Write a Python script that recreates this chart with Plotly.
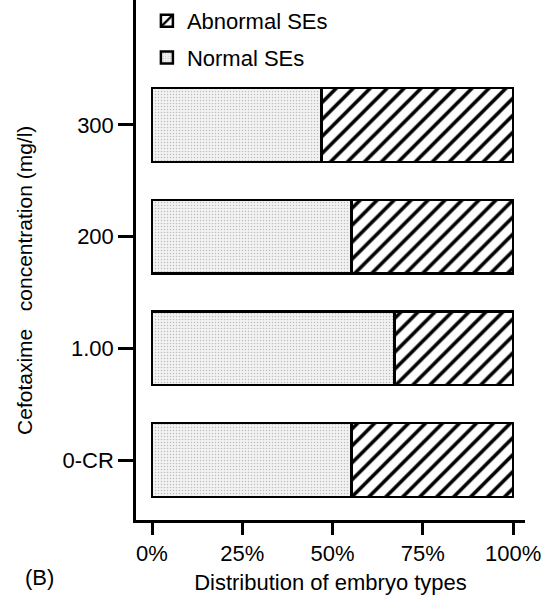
import plotly.graph_objects as go

categories = ["0-CR", "1.00", "200", "300"]
normal_pct = [55.3, 67.1, 55.3, 47.0]
abnormal_pct = [44.7, 32.9, 44.7, 53.0]
x_tickvals = [0, 25, 50, 75, 100]
x_ticktext = ["0%", "25%", "50%", "75%", "100%"]

FONT = "Liberation Sans, Arial, Helvetica, sans-serif"

fig = go.Figure()
fig.add_trace(go.Bar(
    y=categories, x=normal_pct, orientation="h", name="Normal SEs",
    width=0.66, legendrank=2, legendgroup="n",
    marker=dict(color="#ececec", line=dict(color="black", width=2.5),
                pattern=dict(shape=".", fgcolor="#bdbdbd", bgcolor="#f3f3f3",
                             size=3, solidity=0.2, fgopacity=1)),
))
fig.add_trace(go.Bar(
    y=categories, x=abnormal_pct, orientation="h", name="Abnormal SEs",
    width=0.66, legendrank=1, legendgroup="a",
    marker=dict(color="white", line=dict(color="black", width=2.5),
                pattern=dict(shape="/", fgcolor="black", bgcolor="white",
                             size=12, solidity=0.3, fgopacity=1)),
))

fig.update_layout(
    width=558, height=595,
    margin=dict(l=136, r=33, t=0, b=75),
    barmode="stack",
    plot_bgcolor="white", paper_bgcolor="white",
    font=dict(family=FONT, size=22, color="black"),
    showlegend=True,
    legend=dict(x=0.028, y=1.0, xanchor="left", yanchor="top",
                traceorder="grouped", tracegroupgap=5,
                font=dict(size=22), bgcolor="rgba(0,0,0,0)"),
    xaxis=dict(range=[-4.43, 103.3], tickvals=x_tickvals, ticktext=x_ticktext,
               showline=True, linecolor="black", linewidth=2.5,
               ticks="outside", ticklen=12, tickwidth=2.5, tickcolor="black",
               showgrid=False, zeroline=False, tickfont=dict(size=22),
               title=dict(text="Distribution of embryo types", standoff=10,
                          font=dict(size=22))),
    yaxis=dict(range=[-0.537, 4.119], type="category",
               showline=True, linecolor="black", linewidth=2.5,
               ticks="outside", ticklen=15, tickwidth=2.5, tickcolor="black",
               showgrid=False, zeroline=False, ticklabelstandoff=0,
               tickfont=dict(size=22)),
    annotations=[
        dict(text="Cefotaxime   concentration (mg/l)", textangle=-90,
             xref="paper", yref="paper", x=-0.285, y=0.46,
             xanchor="center", yanchor="middle",
             showarrow=False, font=dict(size=21)),
        dict(text="(B)", xref="paper", yref="paper", x=-0.29, y=-0.11,
             xanchor="left", yanchor="middle", showarrow=False,
             font=dict(size=22)),
    ],
)

fig.write_html("out.html", config={"displayModeBar": False},
               post_script="document.body.style.margin='0';")
